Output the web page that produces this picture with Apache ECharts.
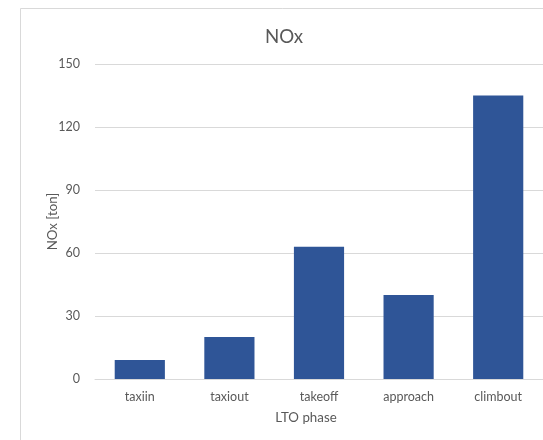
<!DOCTYPE html>
<html>
<head>
<meta charset="utf-8">
<script src="https://cdn.jsdelivr.net/npm/echarts@6/dist/echarts.min.js"></script>
<style>
  html, body { margin: 0; padding: 0; background: #fff; }
  #chart { width: 543px; height: 440px; }
</style>
</head>
<body>
<div id="chart"></div>
<script>
// LTO phases and NOx emissions per phase (ton)
const phases = ['taxiin', 'taxiout', 'takeoff', 'approach', 'climbout'];
const noxTon = [9, 20, 63, 40, 135];
const yTicks = [0, 30, 60, 90, 120, 150];

const FONT = 'Lato, "Liberation Sans", sans-serif';
const TEXT = '#595959';
const LINE = '#d9d9d9';

const chart = echarts.init(document.getElementById('chart'), null, { renderer: 'canvas' });

chart.setOption({
  backgroundColor: '#ffffff',
  animation: false,
  title: {
    text: 'NOx',
    left: 279,
    top: 22,
    textAlign: 'center',
    textStyle: { fontFamily: FONT, fontSize: 18.7, fontWeight: 'normal', color: TEXT }
  },
  graphic: [{
    type: 'rect',
    shape: { x: 20.5, y: 8.5, width: 700, height: 600 },
    style: { fill: 'none', stroke: LINE, lineWidth: 1 },
    silent: true,
    z: -1
  }],
  grid: { left: 95, top: 64, width: 450, height: 315 },
  xAxis: {
    type: 'category',
    data: phases,
    name: 'LTO phase',
    nameLocation: 'middle',
    nameGap: 32,
    nameMoveOverlap: false,
    nameTextStyle: { fontFamily: FONT, fontSize: 13.3, color: TEXT, padding: [0, 26, 0, 0] },
    axisLine: { lineStyle: { color: LINE, width: 1 } },
    axisTick: { show: false },
    axisLabel: { fontFamily: FONT, fontSize: 12.5, color: TEXT, margin: 11 }
  },
  yAxis: {
    type: 'value',
    min: yTicks[0],
    max: yTicks[yTicks.length - 1],
    interval: yTicks[1] - yTicks[0],
    name: 'NOx [ton]',
    nameLocation: 'middle',
    nameGap: 36,
    nameMoveOverlap: false,
    nameTextStyle: { fontFamily: FONT, fontSize: 13.3, color: TEXT },
    axisLine: { show: false },
    axisTick: { show: false },
    axisLabel: { fontFamily: FONT, fontSize: 12.5, color: TEXT, margin: 15 },
    splitLine: { lineStyle: { color: LINE, width: 1 } }
  },
  series: [{
    type: 'bar',
    data: noxTon,
    barCategoryGap: '44%',
    itemStyle: { color: '#2F5597' }
  }]
});
</script>
</body>
</html>
